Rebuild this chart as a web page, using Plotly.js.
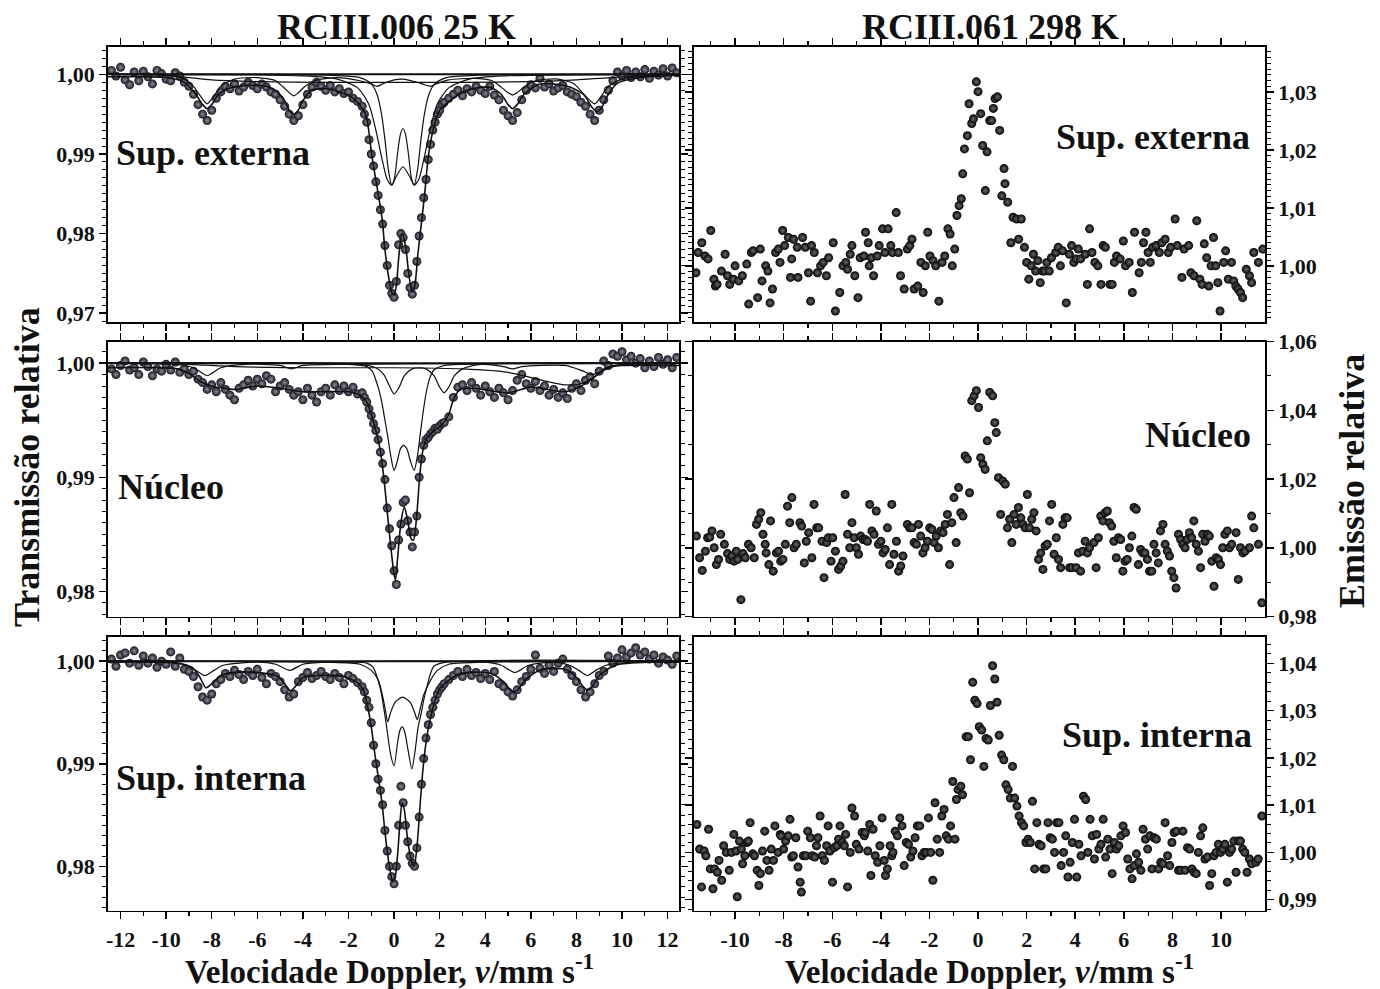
<!DOCTYPE html>
<html><head><meta charset="utf-8">
<script src="https://cdn.plot.ly/plotly-3.0.1.min.js"></script>
<style>html,body{margin:0;padding:0;background:#fff}#chart{width:1380px;height:989px}</style>
</head><body><div id="chart"></div>
<script>
// ---------- Left column (RCIII.006 25 K): channel velocities ----------
const vL = [-12.4,-12.2,-12,-11.8,-11.6,-11.4,-11.2,-11,-10.8,-10.6,-10.4,-10.2,-10,-9.8,-9.6,-9.4,-9.2,-9,-8.8,-8.6,-8.4,-8.2,-8,-7.8,-7.6,-7.4,-7.2,-7,-6.8,-6.6,-6.4,-6.2,-6,-5.8,-5.6,-5.4,-5.2,-5,-4.8,-4.6,-4.4,-4.2,-4,-3.8,-3.6,-3.4,-3.2,-3,-2.8,-2.6,-2.4,-2.2,-2,-1.8,-1.6,-1.4,
-1.3,-1.2,-1.1,-1,-0.9,-0.8,-0.7,-0.6,-0.5,-0.4,-0.3,-0.2,-0.1,0,0.1,0.2,0.3,0.4,0.5,0.6,0.7,0.8,0.9,1,1.1,1.2,1.3,1.4,1.5,1.6,1.7,1.8,1.9,2,2.1,2.2,
2.4,2.6,2.8,3,3.2,3.4,3.6,3.8,4,4.2,4.4,4.6,4.8,5,5.2,5.4,5.6,5.8,6,6.2,6.4,6.6,6.8,7,7.2,7.4,7.6,7.8,8,8.2,8.4,8.6,8.8,9,9.2,9.4,9.6,9.8,10,10.2,10.4,10.6,10.8,11,11.2,11.4,11.6,11.8,12,12.2,12.4];

const yTL = [1.0005,0.9998,1.0009,0.9993,0.9987,1.0003,0.9992,1.0004,0.9997,0.9988,
1.0005,1.0001,0.9994,0.9992,1.0002,0.9998,0.9990,0.9985,0.9975,0.9962,
0.9950,0.9942,0.9955,0.9970,0.9978,0.9985,0.9982,0.9988,0.9979,0.9984,
0.9990,0.9986,0.9982,0.9988,0.9984,0.9978,0.9975,0.9968,0.9960,0.9950,
0.9942,0.9948,0.9962,0.9975,0.9984,0.9990,0.9985,0.9980,0.9986,0.9978,
0.9982,0.9976,0.9978,0.9970,0.9966,0.9960,
0.9950,0.9940,0.9918,0.9900,0.9885,0.9865,0.9848,0.9830,0.9812,0.9785,
0.9760,0.9735,0.9725,0.9720,0.9740,0.9786,0.9800,0.9795,0.9780,0.9750,
0.9732,0.9724,0.9735,0.9765,0.9797,0.9820,0.9845,0.9868,0.9893,0.9912,
0.9930,0.9940,0.9950,0.9955,0.9962,0.9965,
0.9970,0.9975,0.9980,0.9973,0.9982,0.9978,0.9985,0.9980,0.9976,0.9985,
0.9974,0.9968,0.9955,0.9948,0.9942,0.9952,0.9968,0.9980,0.9987,0.9983,
0.9995,0.9984,0.9988,0.9979,0.9983,0.9986,0.9978,0.9975,0.9972,0.9965,
0.9960,0.9950,0.9942,0.9955,0.9968,0.9980,0.9992,1.0003,0.9998,1.0005,
0.9996,1.0003,0.9997,1.0006,0.9995,1.0004,0.9999,1.0007,0.9998,1.0008,1.0002];

const yML = [0.9995,0.9990,0.9998,1.0002,0.9994,0.9996,0.9990,1.0001,0.9997,0.9989,
0.9995,0.9993,0.9999,0.9994,1.0001,0.9992,0.9995,0.9990,0.9993,0.9986,
0.9983,0.9977,0.9981,0.9975,0.9983,0.9977,0.9972,0.9968,0.9978,0.9981,
0.9985,0.9980,0.9986,0.9982,0.9989,0.9986,0.9975,0.9980,0.9983,0.9977,
0.9972,0.9975,0.9968,0.9978,0.9972,0.9966,0.9975,0.9978,0.9972,0.9981,
0.9976,0.9980,0.9975,0.9979,0.9973,0.9974,
0.9970,0.9966,0.9960,0.9954,0.9947,0.9941,0.9933,0.9922,0.9912,0.9898,
0.9873,0.9855,0.9840,0.9818,0.9806,0.9845,0.9859,0.9878,0.9880,0.9862,
0.9852,0.9839,0.9852,0.9866,0.9900,0.9916,0.9928,0.9933,0.9935,0.9938,
0.9940,0.9943,0.9942,0.9945,0.9947,0.9948,
0.9953,0.9970,0.9979,0.9981,0.9976,0.9983,0.9978,0.9972,0.9980,0.9975,
0.9970,0.9978,0.9974,0.9968,0.9976,0.9985,0.9990,0.9982,0.9978,0.9984,
0.9976,0.9980,0.9972,0.9977,0.9970,0.9974,0.9969,0.9978,0.9982,0.9976,
0.9985,0.9988,0.9982,0.9993,1.0002,0.9998,1.0008,1.0006,1.0010,1.0003,
1.0006,1.0000,1.0004,0.9996,1.0002,0.9997,1.0005,0.9999,1.0003,0.9996,1.0005];

const yBL = [1.0002,0.9995,1.0006,1.0008,0.9998,1.0010,0.9996,1.0005,0.9998,1.0003,
0.9994,1.0000,0.9997,1.0009,0.9995,1.0003,0.9992,0.9990,0.9985,0.9975,
0.9965,0.9962,0.9968,0.9978,0.9982,0.9988,0.9985,0.9991,0.9987,0.9982,
0.9990,0.9986,0.9992,0.9984,0.9978,0.9988,0.9985,0.9980,0.9972,0.9965,
0.9968,0.9980,0.9984,0.9989,0.9983,0.9986,0.9990,0.9985,0.9982,0.9988,
0.9984,0.9978,0.9986,0.9983,0.9979,0.9975,
0.9970,0.9962,0.9955,0.9940,0.9918,0.9900,0.9885,0.9874,0.9860,0.9835,
0.9815,0.9800,0.9790,0.9783,0.9800,0.9840,0.9878,0.9862,0.9840,0.9824,
0.9810,0.9803,0.9800,0.9818,0.9848,0.9880,0.9905,0.9925,0.9938,0.9948,
0.9955,0.9962,0.9968,0.9972,0.9975,0.9978,
0.9982,0.9986,0.9990,0.9985,0.9992,0.9986,0.9989,0.9983,0.9988,0.9982,
0.9990,0.9978,0.9975,0.9970,0.9966,0.9972,0.9980,0.9985,0.9992,1.0006,
0.9993,0.9988,0.9996,0.9990,0.9998,1.0002,0.9992,0.9986,0.9980,0.9972,
0.9965,0.9970,0.9978,0.9986,0.9990,1.0005,0.9998,1.0003,1.0011,1.0004,
1.0008,1.0013,1.0006,1.0009,1.0002,1.0006,0.9998,1.0004,1.0001,0.9997,1.0005];

// ---------- Left column fitted curves ----------
const baseX = [-12.55, 12.5];
const baseY = [1.0, 1.0];

const totTL_x = [-12.55,-10,-9.2,-8.7,-8.4,-8.2,-8.0,-7.7,-7.2,-6.5,-5.8,-5.2,-4.8,-4.6,-4.4,-4.2,-4.0,-3.6,-3.0,-2.4,-1.9,-1.6,-1.35,-1.2,-0.96,-0.75,-0.53,-0.4,-0.26,-0.1,0.0,0.1,0.22,0.35,0.5,0.65,0.79,0.9,1.05,1.22,1.36,1.5,1.71,2.0,2.46,3.2,4.2,4.7,5.0,5.2,5.4,5.7,6.4,7.6,8.3,8.7,8.9,9.1,9.4,9.8,10.8,12.5];
const totTL_y = [0.9997,0.9996,0.9990,0.9975,0.9962,0.9957,0.9962,0.9975,0.9983,0.9986,0.9986,0.9980,0.9967,0.9955,0.9950,0.9955,0.9967,0.9980,0.9982,0.9978,0.9972,0.9965,0.9955,0.9945,0.9895,0.9859,0.9820,0.9780,0.9749,0.9726,0.9723,0.9735,0.9775,0.9800,0.9785,0.9748,0.9727,0.9733,0.9776,0.9818,0.9855,0.9896,0.9930,0.9955,0.9967,0.9980,0.9984,0.9975,0.9962,0.9957,0.9962,0.9975,0.9988,0.9985,0.9975,0.9958,0.9953,0.9958,0.9975,0.9989,0.9996,0.9999];
const d1TL_x = [-12.55,-3,-1.5,-1.0,-0.75,-0.55,-0.4,-0.25,-0.1,0.02,0.15,0.28,0.39,0.5,0.63,0.76,0.88,1.03,1.18,1.33,1.53,1.78,2.3,3.8,12.5];
const d1TL_y = [1,0.9999,0.9996,0.9988,0.9975,0.9950,0.9918,0.9880,0.9861,0.9870,0.9900,0.9925,0.9932,0.9925,0.9900,0.9870,0.9861,0.9880,0.9918,0.9950,0.9975,0.9988,0.9996,0.9999,1];
const d2TL_x = [-12.55,-4,-2.5,-1.6,-1.1,-0.8,-0.5,-0.3,-0.1,0.1,0.39,0.68,0.88,1.08,1.28,1.58,1.88,2.4,3.3,4.8,12.5];
const d2TL_y = [1,0.9998,0.9994,0.9983,0.9962,0.9930,0.9890,0.9868,0.9861,0.9872,0.9884,0.9872,0.9861,0.9868,0.9890,0.9930,0.9962,0.9983,0.9994,0.9998,1];
const sxTL_x = [-12.55,-10,-9.2,-8.8,-8.5,-8.2,-7.9,-7.6,-7.0,-6.0,-5.2,-4.9,-4.6,-4.4,-4.2,-3.9,-3.5,-2.5,-1.5,-1.0,-0.75,-0.5,0.0,0.4,0.9,1.35,1.6,1.85,2.4,3.5,4.3,4.7,5.0,5.2,5.4,5.7,6.2,7.2,7.9,8.3,8.8,9.1,9.4,10.0,11,12.5];
const sxTL_y = [1.0,0.9999,0.9994,0.9985,0.9973,0.9963,0.9973,0.9985,0.9994,0.9996,0.9992,0.9985,0.9977,0.9973,0.9977,0.9985,0.9992,0.9996,0.9992,0.9988,0.9985,0.9988,0.9993,0.9994,0.9991,0.9987,0.9985,0.9988,0.9993,0.9995,0.9992,0.9984,0.9977,0.9974,0.9977,0.9984,0.9992,0.9994,0.9988,0.9976,0.9963,0.9973,0.9985,0.9994,0.9998,1.0];
const bdTL_x = [-12.55,-10,-9,-8,-6,-3,0,3,6,8,9.5,12.5];
const bdTL_y = [1.0,0.9999,0.9996,0.9993,0.9991,0.9990,0.9990,0.9990,0.9991,0.9993,0.9996,1.0];

const totML_x = [-12.55,-9.5,-9.0,-8.5,-8.0,-7.0,-6.0,-5.0,-4.0,-3.0,-2.0,-1.5,-1.2,-1.0,-0.8,-0.6,-0.45,-0.3,-0.15,0.0,0.06,0.15,0.3,0.45,0.6,0.75,0.85,1.0,1.12,1.25,1.4,1.7,2.1,2.4,2.6,2.9,3.5,5.0,6.0,7.5,8.3,8.8,9.3,10,12.5];
const totML_y = [0.9996,0.9995,0.9991,0.9984,0.9980,0.9977,0.9980,0.9978,0.9975,0.9975,0.9975,0.9972,0.9966,0.9955,0.9941,0.9923,0.9900,0.9870,0.9840,0.9815,0.9810,0.9828,0.9860,0.9874,0.9862,0.9846,0.9845,0.9868,0.9900,0.9922,0.9933,0.9940,0.9946,0.9955,0.9968,0.9977,0.9978,0.9974,0.9979,0.9975,0.9981,0.9988,0.9996,0.9998,0.9998];
const d1ML_x = [-12.55,-2,-1.2,-0.96,-0.7,-0.55,-0.4,-0.28,-0.14,0.0,0.14,0.28,0.42,0.56,0.72,0.88,1.02,1.15,1.26,1.4,1.55,1.75,2.2,3,12.5];
const d1ML_y = [1,0.9999,0.9997,0.9993,0.9979,0.9967,0.9950,0.9936,0.9918,0.9906,0.9914,0.9925,0.9928,0.9925,0.9914,0.9906,0.9918,0.9938,0.9955,0.9973,0.9986,0.9994,0.9998,0.9999,1];
const d2ML_x = [-12.55,-1.5,-0.8,-0.45,-0.2,0.0,0.2,0.45,0.8,1.1,1.4,1.75,2.0,2.2,2.4,2.65,3.0,3.8,12.5];
const d2ML_y = [1,0.9999,0.9996,0.9990,0.9980,0.9973,0.9978,0.9989,0.9995,0.9996,0.9995,0.9989,0.9979,0.9974,0.9979,0.9989,0.9995,0.9999,1];
const sxML_x = [-12.55,-9.5,-8.8,-8.4,-8.2,-8.0,-7.6,-6.5,-5.0,-4.5,-4.0,-2,4,4.8,5.2,5.6,7.5,8.3,8.7,9.1,9.8,12.5];
const sxML_y = [1,0.9999,0.9996,0.9991,0.9989,0.9991,0.9996,0.9999,0.9998,0.9995,0.9998,0.9999,0.9999,0.9997,0.9995,0.9997,0.9998,0.9993,0.9990,0.9993,0.9998,1];
const bdML_x = [-12.55,-9,-7,-3,0,3,5,6.5,7.5,8.2,8.8,9.3,10,12.5];
const bdML_y = [1,0.9999,0.9997,0.9996,0.9996,0.9995,0.9992,0.9985,0.9981,0.9982,0.9988,0.9996,0.9999,1];

const totBL_x = [-12.55,-9.5,-8.87,-8.54,-8.25,-8.0,-7.6,-7.0,-6.1,-5.1,-4.8,-4.55,-4.3,-4.0,-3.2,-2.2,-1.6,-1.33,-1.17,-1.0,-0.84,-0.68,-0.52,-0.42,-0.32,-0.19,-0.06,0.05,0.15,0.25,0.35,0.45,0.6,0.75,0.88,1.0,1.15,1.26,1.43,1.59,1.75,2.0,2.64,3.3,4.26,4.8,5.1,5.3,5.5,5.8,6.5,7.5,8.0,8.3,8.5,8.75,9.0,9.7,11.4,12.5];
const totBL_y = [0.9999,0.9998,0.9994,0.9985,0.9974,0.9978,0.9986,0.9989,0.9989,0.9985,0.9978,0.9971,0.9976,0.9984,0.9986,0.9985,0.9979,0.9971,0.9957,0.9936,0.9909,0.9885,0.9860,0.9838,0.9818,0.9798,0.9785,0.9790,0.9810,0.9840,0.9862,0.9855,0.9825,0.9806,0.9800,0.9818,0.9862,0.9893,0.9925,0.9944,0.9958,0.9973,0.9985,0.9989,0.9988,0.9980,0.9972,0.9970,0.9974,0.9983,0.9992,0.9992,0.9984,0.9975,0.9972,0.9977,0.9986,0.9996,0.9999,0.9999];
const d1BL_x = [-12.55,-2,-1.2,-0.92,-0.6,-0.36,-0.15,0.0,0.15,0.26,0.37,0.48,0.6,0.78,0.92,1.05,1.18,1.3,1.43,1.6,1.75,2.3,12.5];
const d1BL_y = [1,0.9999,0.9998,0.9994,0.9973,0.9941,0.9909,0.9898,0.9920,0.9933,0.9936,0.9930,0.9915,0.9895,0.9912,0.9935,0.9948,0.9962,0.9974,0.9988,0.9995,0.9999,1];
const d2BL_x = [-12.55,-3,-1.5,-1.0,-0.68,-0.5,-0.38,-0.28,-0.15,0.05,0.37,0.7,0.9,1.02,1.13,1.3,1.59,1.9,2.4,4,12.5];
const d2BL_y = [1,0.9999,0.9997,0.9991,0.9981,0.9966,0.9952,0.9941,0.9950,0.9960,0.9965,0.9960,0.9950,0.9943,0.9952,0.9967,0.9981,0.9991,0.9997,0.9999,1];
const sxBL_x = [-12.55,-10,-9.1,-8.7,-8.3,-7.9,-7.5,-6,-5.2,-4.57,-4.0,-3,4,4.7,5.3,5.9,7,7.7,8.1,8.48,8.85,9.3,10.5,12.5];
const sxBL_y = [1,0.9999,0.9996,0.9991,0.9986,0.9991,0.9996,0.9999,0.9997,0.9991,0.9997,0.9999,0.9999,0.9996,0.9989,0.9996,0.9999,0.9996,0.9991,0.9986,0.9991,0.9996,0.9999,1];

// ---------- Right column (RCIII.061 298 K) ----------
const xTR = [-11.61,-11.52,-11.37,-11.24,-11.11,-11.0,-10.87,-10.81,-10.74,-10.56,-10.41,-10.31,-10.22,-10.07,-10.0,-9.85,-9.70,-9.52,-9.44,-9.33,-9.26,-9.07,-8.96,-8.89,-8.74,-8.65,-8.56,-8.46,-8.33,-8.22,-8.15,-8.04,-7.96,-7.81,-7.72,-7.67,-7.59,-7.44,-7.41,-7.22,-7.11,-6.98,-6.89,-6.85,-6.74,-6.61,-6.48,-6.37,-6.24,-6.15,-5.96,-5.87,-5.69,-5.56,-5.44,-5.37,-5.26,-5.19,-5.07,-4.94,-4.85,-4.70,-4.63,-4.52,-4.48,-4.39,-4.30,-4.15,-4.07,-3.93,-3.83,-3.70,-3.59,-3.52,-3.37,-3.28,-3.19,-3.04,-2.91,-2.81,-2.72,-2.63,-2.48,-2.35,-2.26,-2.17,-2.07,-1.98,-1.85,-1.74,-1.61,-1.48,-1.37,-1.24,-1.15,-1.06,-0.96,-0.87,-0.78,-0.69,-0.63,-0.56,-0.44,-0.37,-0.26,-0.19,-0.07,0.0,0.11,0.19,0.30,0.37,0.48,0.56,0.63,0.70,0.80,0.89,0.98,1.07,1.11,1.22,1.35,1.44,1.59,1.67,1.78,1.91,2.0,2.09,2.19,2.28,2.37,2.46,2.56,2.65,2.74,2.83,2.93,3.02,3.20,3.30,3.39,3.48,3.63,3.76,3.85,3.94,4.04,4.13,4.22,4.41,4.50,4.59,4.69,4.81,4.93,5.06,5.15,5.24,5.43,5.52,5.61,5.70,5.85,5.98,6.07,6.22,6.35,6.44,6.63,6.72,6.81,6.91,7.0,7.09,7.19,7.33,7.46,7.56,7.70,7.83,7.93,8.11,8.20,8.39,8.48,8.67,8.76,8.89,9.0,9.13,9.22,9.31,9.41,9.50,9.59,9.69,9.78,9.87,9.96,10.11,10.19,10.30,10.43,10.52,10.61,10.70,10.80,10.89,11.04,11.17,11.26,11.35,11.54,11.72];
const yTR = [0.9988,1.0023,1.0040,1.0017,1.0012,1.0061,0.9977,0.9965,0.9968,0.9991,1.0020,0.9983,0.9968,0.9977,1.0000,0.9974,0.9983,1.0003,0.9934,1.0023,1.0026,0.9945,1.0029,0.9974,1.0000,0.9991,0.9936,0.9960,1.0023,1.0029,1.0006,1.0061,1.0035,1.0049,0.9980,1.0012,1.0046,1.0032,0.9980,1.0049,1.0032,0.9988,0.9939,1.0035,1.0023,0.9988,1.0000,1.0006,0.9983,1.0014,1.0040,0.9922,0.9954,1.0000,1.0006,0.9994,1.0020,1.0035,0.9983,0.9945,1.0014,1.0017,1.0058,1.0040,1.0000,1.0014,0.9983,1.0017,1.0035,1.0064,1.0023,1.0064,1.0035,1.0023,1.0092,1.0023,0.9983,0.9960,1.0029,1.0035,1.0046,0.9960,0.9965,1.0006,0.9954,1.0000,1.0058,1.0017,1.0009,1.0000,0.9939,1.0006,1.0017,1.0064,1.0055,1.0000,1.0029,1.0087,1.0104,1.0116,1.0159,1.0202,1.0225,1.0280,1.0246,1.0254,1.0318,1.0301,1.0263,1.0208,1.0130,1.0197,1.0251,1.0251,1.0272,1.0289,1.0292,1.0234,1.0121,1.0168,1.0142,1.0110,1.0040,1.0084,1.0081,1.0046,1.0081,1.0032,1.0006,0.9977,1.0000,1.0020,0.9991,1.0009,0.9971,0.9991,0.9991,1.0006,0.9991,1.0014,1.0023,1.0032,1.0000,1.0026,0.9936,1.0020,1.0035,1.0006,1.0012,1.0029,1.0012,1.0020,0.9968,1.0064,1.0023,1.0006,1.0000,0.9968,1.0035,1.0032,0.9968,0.9968,1.0006,1.0017,1.0012,1.0043,1.0000,1.0006,0.9954,1.0058,0.9988,1.0006,1.0040,1.0058,1.0023,1.0006,1.0032,1.0035,1.0023,1.0040,1.0046,1.0023,1.0032,1.0081,1.0035,0.9980,1.0029,1.0035,0.9988,0.9983,1.0078,0.9977,0.9968,1.0038,1.0014,0.9965,1.0000,1.0049,1.0000,0.9971,0.9922,1.0006,1.0026,0.9977,1.0006,0.9974,0.9965,0.9960,0.9954,0.9945,0.9994,0.9983,0.9971,1.0023,1.0006,1.0029];

const xMR = [-11.59,-11.46,-11.35,-11.22,-11.13,-11.04,-10.95,-10.86,-10.77,-10.68,-10.59,-10.44,-10.31,-10.22,-10.13,-10.04,-9.95,-9.89,-9.76,-9.67,-9.58,-9.45,-9.34,-9.21,-9.12,-9.03,-8.94,-8.85,-8.76,-8.72,-8.61,-8.54,-8.43,-8.30,-8.21,-8.12,-8.03,-7.93,-7.84,-7.75,-7.66,-7.57,-7.48,-7.33,-7.26,-7.15,-7.07,-6.97,-6.84,-6.75,-6.64,-6.56,-6.42,-6.34,-6.23,-6.16,-6.05,-5.98,-5.87,-5.74,-5.65,-5.56,-5.47,-5.37,-5.28,-5.19,-5.10,-5.01,-4.92,-4.83,-4.73,-4.64,-4.55,-4.46,-4.37,-4.28,-4.19,-4.10,-4.00,-3.91,-3.82,-3.73,-3.64,-3.55,-3.46,-3.36,-3.27,-3.18,-3.09,-2.91,-2.82,-2.72,-2.63,-2.54,-2.45,-2.36,-2.27,-2.18,-2.08,-1.99,-1.90,-1.81,-1.72,-1.63,-1.54,-1.44,-1.35,-1.26,-1.17,-1.08,-0.99,-0.90,-0.80,-0.71,-0.62,-0.53,-0.44,-0.35,-0.26,-0.16,-0.07,0.02,0.11,0.20,0.29,0.38,0.48,0.60,0.69,0.75,0.84,0.93,1.02,1.12,1.21,1.30,1.39,1.48,1.57,1.66,1.76,1.85,1.94,2.03,2.12,2.21,2.30,2.39,2.49,2.58,2.67,2.76,2.85,2.94,3.03,3.13,3.22,3.31,3.40,3.49,3.58,3.67,3.77,3.86,4.04,4.13,4.22,4.31,4.41,4.50,4.59,4.77,4.86,4.95,5.05,5.14,5.23,5.32,5.41,5.50,5.59,5.69,5.78,5.87,5.96,6.05,6.14,6.23,6.33,6.42,6.51,6.60,6.69,6.78,6.87,6.97,7.06,7.15,7.24,7.33,7.42,7.51,7.61,7.70,7.79,7.88,7.97,8.06,8.15,8.25,8.34,8.43,8.52,8.61,8.70,8.79,8.88,8.98,9.07,9.16,9.25,9.34,9.43,9.52,9.62,9.71,9.80,9.89,9.98,10.07,10.16,10.26,10.35,10.44,10.62,10.71,10.80,10.90,10.99,11.17,11.26,11.35,11.54,11.68];
const yMR = [1.0034,0.9971,0.9934,0.9990,1.0029,1.0031,1.0049,1.0000,0.9951,0.9966,1.0039,1.0010,0.9983,0.9966,0.9976,0.9961,0.9990,0.9966,0.9849,0.9983,0.9971,1.0010,1.0000,0.9971,1.0068,1.0083,1.0102,1.0039,1.0010,0.9985,0.9951,1.0078,0.9932,0.9985,0.9990,0.9961,0.9966,1.0010,1.0121,1.0073,1.0146,1.0000,1.0010,1.0073,1.0063,0.9956,1.0019,1.0044,0.9971,1.0126,1.0058,1.0058,1.0019,0.9913,1.0015,1.0029,0.9961,1.0029,0.9990,0.9937,0.9947,0.9961,1.0155,1.0039,1.0000,1.0073,1.0029,1.0000,0.9981,1.0034,1.0024,1.0024,1.0019,1.0126,1.0049,1.0039,1.0107,1.0010,1.0019,0.9985,0.9995,1.0058,0.9951,1.0126,0.9981,1.0019,0.9932,0.9947,0.9976,1.0068,1.0058,1.0058,1.0015,1.0010,1.0068,1.0034,0.9985,1.0000,1.0019,1.0058,1.0053,1.0015,1.0034,1.0000,1.0049,1.0044,1.0068,1.0097,0.9951,1.0073,1.0146,1.0015,1.0175,1.0102,1.0092,1.0267,1.0258,1.0160,1.0428,1.0442,1.0457,1.0408,1.0262,1.0243,1.0228,1.0311,1.0452,1.0442,1.0364,1.0335,1.0204,1.0097,1.0194,1.0185,1.0058,1.0083,1.0015,1.0097,1.0068,1.0117,1.0087,1.0068,1.0058,1.0155,1.0058,1.0083,1.0102,1.0049,0.9966,0.9985,0.9937,1.0005,1.0010,1.0078,1.0126,0.9981,1.0029,0.9966,0.9942,1.0068,1.0087,1.0087,0.9942,0.9942,0.9942,0.9985,0.9932,0.9990,1.0019,0.9985,1.0000,1.0015,0.9942,1.0029,1.0092,1.0078,1.0102,1.0107,1.0073,1.0063,1.0019,0.9971,1.0029,1.0024,0.9932,0.9961,0.9966,1.0000,1.0034,1.0117,1.0112,0.9951,0.9995,0.9985,0.9985,0.9966,0.9932,0.9932,1.0010,0.9985,0.9956,1.0049,1.0068,1.0010,0.9990,0.9976,0.9932,0.9913,0.9883,1.0039,1.0024,1.0010,1.0000,1.0024,1.0044,1.0029,1.0078,1.0010,0.9990,0.9942,1.0039,1.0019,1.0039,1.0034,0.9961,0.9888,0.9971,0.9966,0.9951,1.0000,1.0039,1.0049,1.0000,1.0010,1.0044,0.9908,1.0000,0.9985,0.9990,1.0000,1.0092,1.0058,1.0010,0.9840];

const xBR = [-11.57,-11.46,-11.38,-11.27,-11.20,-11.09,-11.02,-10.91,-10.84,-10.73,-10.66,-10.55,-10.47,-10.36,-10.24,-10.15,-10.05,-9.96,-9.91,-9.82,-9.74,-9.69,-9.60,-9.51,-9.45,-9.38,-9.27,-9.20,-9.09,-9.02,-8.96,-8.87,-8.78,-8.69,-8.60,-8.51,-8.42,-8.36,-8.23,-8.14,-8.11,-8.00,-7.92,-7.81,-7.74,-7.67,-7.60,-7.50,-7.41,-7.32,-7.27,-7.19,-7.09,-7.01,-6.90,-6.83,-6.72,-6.65,-6.59,-6.50,-6.41,-6.32,-6.23,-6.17,-6.10,-5.99,-5.92,-5.81,-5.74,-5.68,-5.59,-5.50,-5.45,-5.37,-5.26,-5.19,-5.08,-5.01,-4.90,-4.77,-4.68,-4.64,-4.54,-4.46,-4.41,-4.32,-4.23,-4.13,-4.04,-3.95,-3.86,-3.81,-3.73,-3.62,-3.55,-3.50,-3.41,-3.32,-3.22,-3.13,-3.04,-2.95,-2.86,-2.77,-2.68,-2.59,-2.50,-2.40,-2.31,-2.22,-2.13,-2.04,-1.95,-1.86,-1.77,-1.68,-1.58,-1.49,-1.40,-1.31,-1.22,-1.13,-1.04,-0.95,-0.89,-0.82,-0.71,-0.64,-0.49,-0.40,-0.31,-0.22,-0.13,-0.04,0.05,0.15,0.24,0.33,0.42,0.51,0.60,0.69,0.78,0.87,0.97,1.06,1.15,1.24,1.33,1.42,1.51,1.60,1.69,1.79,1.88,1.97,2.06,2.15,2.24,2.33,2.42,2.51,2.60,2.70,2.79,2.88,2.97,3.06,3.15,3.24,3.33,3.42,3.52,3.61,3.70,3.79,3.88,3.97,4.06,4.15,4.24,4.34,4.43,4.52,4.61,4.70,4.79,4.88,4.97,5.06,5.15,5.25,5.34,5.43,5.52,5.61,5.70,5.79,5.88,5.97,6.07,6.16,6.25,6.34,6.43,6.52,6.61,6.70,6.79,6.89,6.98,7.07,7.16,7.25,7.34,7.43,7.52,7.61,7.70,7.80,7.89,7.98,8.07,8.16,8.25,8.34,8.43,8.52,8.62,8.71,8.80,8.89,8.98,9.07,9.16,9.25,9.34,9.44,9.53,9.62,9.71,9.80,9.89,9.98,10.07,10.16,10.26,10.35,10.44,10.53,10.62,10.71,10.80,10.89,10.98,11.07,11.17,11.26,11.44,11.53,11.68];
const yBR = [1.0059,1.0007,0.9927,1.0003,0.9993,1.0049,0.9965,0.9923,0.9965,0.9958,0.9983,0.9941,1.0014,1.0000,0.9962,1.0000,1.0038,1.0003,0.9906,1.0024,1.0007,0.9976,0.9993,1.0021,1.0024,1.0063,0.9997,0.9993,0.9962,0.9930,0.9955,1.0003,1.0045,0.9983,0.9962,1.0007,0.9983,1.0056,1.0000,1.0038,1.0035,1.0007,1.0024,1.0035,1.0070,0.9990,0.9993,1.0031,0.9969,0.9937,0.9916,0.9993,0.9993,1.0045,1.0031,0.9993,0.9990,1.0014,1.0031,1.0077,0.9993,0.9983,1.0014,1.0056,1.0003,0.9937,1.0010,1.0014,1.0028,1.0056,1.0021,1.0014,1.0038,0.9927,1.0000,1.0094,1.0077,1.0017,1.0007,1.0042,1.0035,1.0042,1.0003,1.0059,0.9951,1.0049,0.9993,0.9979,1.0014,1.0073,0.9983,0.9951,0.9965,1.0014,0.9993,1.0000,1.0045,1.0035,1.0073,1.0056,0.9972,1.0021,1.0017,0.9990,1.0003,1.0031,1.0056,1.0056,0.9993,1.0000,1.0000,1.0073,1.0000,0.9941,1.0105,1.0028,1.0000,1.0077,1.0091,1.0035,1.0028,1.0056,1.0150,1.0028,1.0112,1.0133,1.0140,1.0122,1.0245,1.0245,1.0196,1.0360,1.0322,1.0315,1.0266,1.0259,1.0182,1.0241,1.0238,1.0311,1.0395,1.0367,1.0318,1.0248,1.0206,1.0196,1.0143,1.0133,1.0115,1.0182,1.0115,1.0098,1.0077,1.0063,1.0056,1.0021,1.0028,1.0021,1.0108,0.9965,1.0063,1.0017,1.0014,0.9965,0.9965,1.0063,1.0031,1.0028,1.0000,1.0063,1.0063,0.9972,1.0000,1.0035,0.9948,0.9979,1.0021,1.0070,0.9948,1.0017,0.9993,1.0119,1.0112,1.0000,1.0070,1.0035,0.9986,1.0038,1.0007,1.0017,1.0070,0.9990,1.0028,1.0007,0.9955,1.0021,1.0007,1.0014,1.0035,1.0056,1.0042,0.9986,0.9965,0.9944,0.9972,0.9997,0.9979,0.9962,1.0049,1.0028,1.0007,1.0035,0.9965,1.0031,1.0028,0.9965,0.9979,0.9976,1.0063,0.9993,0.9972,1.0021,1.0042,1.0045,0.9962,0.9962,1.0045,0.9962,1.0010,1.0007,0.9965,0.9958,0.9955,1.0000,1.0035,1.0052,0.9986,0.9990,0.9930,0.9955,0.9993,1.0000,1.0017,1.0000,1.0007,1.0017,0.9937,1.0000,1.0007,1.0024,0.9958,1.0024,1.0024,1.0007,1.0000,0.9958,0.9986,0.9976,0.9979,0.9986,1.0077];

// ---------- Tick labels and text ----------
const xTickValsL = [-12,-10,-8,-6,-4,-2,0,2,4,6,8,10,12];
const xTickTextL = ['-12','-10','-8','-6','-4','-2','0','2','4','6','8','10','12'];
const xTickValsR = [-10,-8,-6,-4,-2,0,2,4,6,8,10];
const xTickTextR = ['-10','-8','-6','-4','-2','0','2','4','6','8','10'];
const colTitles = ['RCIII.006 25 K', 'RCIII.061 298 K'];
const panelLabels = ['Sup. externa', 'Núcleo', 'Sup. interna'];
const xTitle = 'Velocidade Doppler, <i>v</i>/mm s<sup>-1</sup>';
const yTitleLeft = 'Transmissão relativa';
const yTitleRight = 'Emissão relativa';

// ---------- Build ----------
const FONT = 'Liberation Serif, Times New Roman, serif';
const leftMarker = {size: 9, color: '#17171f', gradient: {type: 'radial', color: '#8c8c9a'}, line: {width: 0}};
const rightMarker = {size: 9, color: '#030303', gradient: {type: 'radial', color: '#6a6a6a'}, line: {width: 0}};

const traces = [];
function pts(x, y, ax, m) {
  traces.push({type: 'scatter', mode: 'markers', x: x, y: y, xaxis: 'x' + ax, yaxis: 'y' + ax, marker: m, hoverinfo: 'skip', showlegend: false});
}
function line(x, y, ax, w) {
  traces.push({type: 'scatter', mode: 'lines', x: x, y: y, xaxis: 'x' + ax, yaxis: 'y' + ax,
    line: {color: '#111', width: w, shape: 'spline', smoothing: 0.7}, hoverinfo: 'skip', showlegend: false});
}
// TL = axis 1, TR = 2, ML = 3, MR = 4, BL = 5, BR = 6
pts(vL, yTL, '', leftMarker);
pts(vL, yML, '3', leftMarker);
pts(vL, yBL, '5', leftMarker);
pts(xTR, yTR, '2', rightMarker);
pts(xMR, yMR, '4', rightMarker);
pts(xBR, yBR, '6', rightMarker);

line(baseX, baseY, '', 2); line(bdTL_x, bdTL_y, '', 1.2); line(sxTL_x, sxTL_y, '', 1.2);
line(d1TL_x, d1TL_y, '', 1.2); line(d2TL_x, d2TL_y, '', 1.2); line(totTL_x, totTL_y, '', 1.6);
line(baseX, baseY, '3', 2); line(bdML_x, bdML_y, '3', 1.2); line(sxML_x, sxML_y, '3', 1.2);
line(d2ML_x, d2ML_y, '3', 1.2); line(d1ML_x, d1ML_y, '3', 1.2); line(totML_x, totML_y, '3', 1.6);
line(baseX, baseY, '5', 2); line(sxBL_x, sxBL_y, '5', 1.2);
line(d2BL_x, d2BL_y, '5', 1.2); line(d1BL_x, d1BL_y, '5', 1.2); line(totBL_x, totBL_y, '5', 1.6);

const W = 1380, H = 989;
const colDom = [[108 / W, 679 / W], [694 / W, 1265 / W]];
const rowDom = [[1 - 322 / H, 1 - 46.5 / H], [1 - 616.5 / H, 1 - 341.5 / H], [1 - 910.5 / H, 1 - 636.5 / H]];
const tickFont = {family: FONT, size: 22, color: '#111', weight: 'bold'};

function xAxis(col, row, anchor) {
  return {domain: colDom[col], anchor: anchor, range: col === 0 ? [-12.55, 12.5] : [-11.69, 11.81],
    tickmode: 'array', tickvals: col === 0 ? xTickValsL : xTickValsR, ticktext: col === 0 ? xTickTextL : xTickTextR,
    ticks: 'outside', ticklen: 7, tickwidth: 1.5, tickcolor: '#000',
    minor: {dtick: 1, tick0: 0, ticks: 'outside', ticklen: 4, tickwidth: 1.2, tickcolor: '#000'},
    showline: true, linewidth: 1.8, linecolor: '#000', mirror: 'allticks',
    showgrid: false, zeroline: false, showticklabels: row === 2, tickfont: tickFont, ticklabelstandoff: 1};
}
function yAxis(col, row, anchor, range, dt, mdt) {
  return {domain: rowDom[row], anchor: anchor, range: range, side: col === 0 ? 'left' : 'right',
    dtick: dt, tick0: 1, tickformat: '.2f', ticks: 'outside', ticklen: 7, tickwidth: 1.5, tickcolor: '#000',
    minor: {dtick: mdt, ticks: 'outside', ticklen: 4, tickwidth: 1, tickcolor: '#000'},
    showline: true, linewidth: 1.8, linecolor: '#000', mirror: 'allticks',
    showgrid: false, zeroline: false, tickfont: tickFont};
}

const ann = [];
function txt(s, x, y, xa, ya, size, angle) {
  ann.push({text: '<b>' + s + '</b>', x: x, y: y, xref: 'paper', yref: 'paper', xanchor: xa, yanchor: ya,
    showarrow: false, textangle: angle || 0, borderpad: 0, font: {family: FONT, size: size, color: '#111'}});
}
txt(colTitles[0], 396 / W, 1 - 27 / H, 'center', 'middle', 36);
txt(colTitles[1], 990 / W, 1 - 27 / H, 'center', 'middle', 36);
txt(panelLabels[0], 115 / W, 1 - 153 / H, 'left', 'middle', 36);
txt(panelLabels[1], 117 / W, 1 - 487 / H, 'left', 'middle', 36);
txt(panelLabels[2], 115 / W, 1 - 778 / H, 'left', 'middle', 36);
txt(panelLabels[0], 1251 / W, 1 - 137 / H, 'right', 'middle', 36);
txt(panelLabels[1], 1252 / W, 1 - 435 / H, 'right', 'middle', 36);
txt(panelLabels[2], 1253 / W, 1 - 735 / H, 'right', 'middle', 36);
txt(xTitle, 390 / W, 1 - 969 / H, 'center', 'middle', 33);
txt(xTitle, 989 / W, 1 - 969 / H, 'center', 'middle', 33);
txt(yTitleLeft, 27 / W, 1 - 467 / H, 'center', 'middle', 36, -90);
txt(yTitleRight, 1352 / W, 1 - 481 / H, 'center', 'middle', 36, -90);

const layout = {
  width: W, height: H, margin: {l: 0, r: 0, t: 0, b: 0},
  paper_bgcolor: '#fff', plot_bgcolor: '#fff', separators: ',.', showlegend: false,
  font: {family: FONT, color: '#111'},
  xaxis: xAxis(0, 0, 'y'), yaxis: yAxis(0, 0, 'x', [0.9689, 1.0035], 0.01, 0.001),
  xaxis2: xAxis(1, 0, 'y2'), yaxis2: yAxis(1, 0, 'x2', [0.9903, 1.0379], 0.01, 0.001),
  xaxis3: xAxis(0, 1, 'y3'), yaxis3: yAxis(0, 1, 'x3', [0.9778, 1.0019], 0.01, 0.001),
  xaxis4: xAxis(1, 1, 'y4'), yaxis4: yAxis(1, 1, 'x4', [0.98, 1.06], 0.02, 0.01),
  xaxis5: xAxis(0, 2, 'y5'), yaxis5: yAxis(0, 2, 'x5', [0.9757, 1.0024], 0.01, 0.001),
  xaxis6: xAxis(1, 2, 'y6'), yaxis6: yAxis(1, 2, 'x6', [0.9877, 1.0457], 0.01, 0.002),
  annotations: ann
};
Plotly.newPlot('chart', traces, layout, {displayModeBar: false, staticPlot: true});
</script></body></html>
